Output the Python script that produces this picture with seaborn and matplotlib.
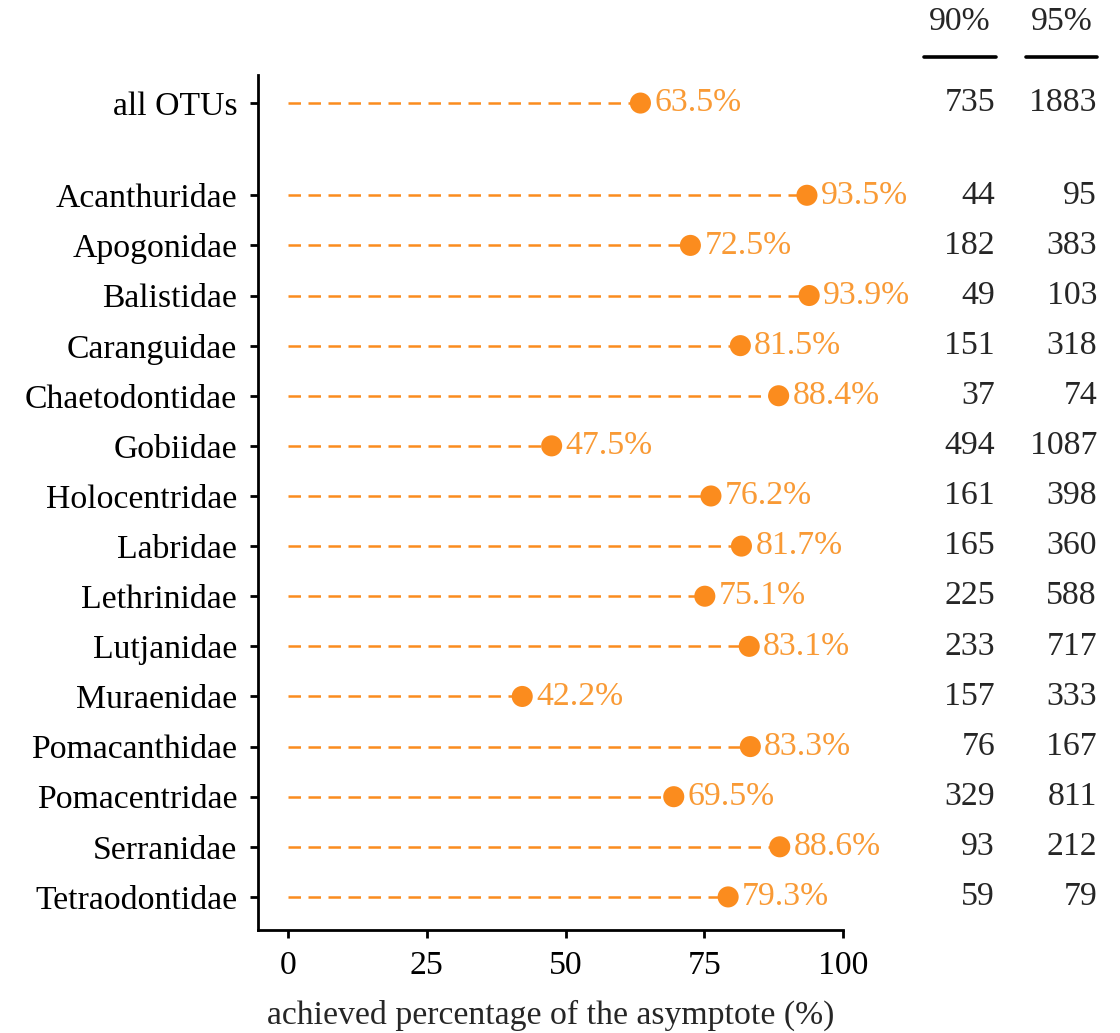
import matplotlib
matplotlib.use("Agg")
import matplotlib.pyplot as plt
import matplotlib.transforms as mtransforms
import seaborn as sns
import pandas as pd

groups = ["all OTUs", "Acanthuridae", "Apogonidae", "Balistidae", "Caranguidae",
          "Chaetodontidae", "Gobiidae", "Holocentridae", "Labridae", "Lethrinidae",
          "Lutjanidae", "Muraenidae", "Pomacanthidae", "Pomacentridae", "Serranidae",
          "Tetraodontidae"]
achieved = [63.5, 93.5, 72.5, 93.9, 81.5, 88.4, 47.5, 76.2, 81.7, 75.1, 83.1,
            42.2, 83.3, 69.5, 88.6, 79.3]
n90 = [735, 44, 182, 49, 151, 37, 494, 161, 165, 225, 233, 157, 76, 329, 93, 59]
n95 = [1883, 95, 383, 103, 318, 74, 1087, 398, 360, 588, 717, 333, 167, 811, 212, 79]
table_headers = ["90%", "95%"]
x_ticks = [0, 25, 50, 75, 100]

sns.set_style("ticks")
plt.rcParams["font.family"] = ["Liberation Serif", "DejaVu Serif"]

ORANGE = "#fb8c1e"
LABEL_ORANGE = "#f99a35"
FS = 24.3

# row positions: a gap between "all OTUs" and the families
pos = [0.0] + [1.84 + i for i in range(len(groups) - 1)]
df = pd.DataFrame({"group": groups, "achieved": achieved, "pos": pos,
                   "n90": n90, "n95": n95})

fig = plt.figure(figsize=(11.2, 10.33), dpi=100)
ax = fig.add_axes([0.2304, 0.0997, 0.7527 - 0.2304, 0.9274 - 0.0997])

ax.hlines(df["pos"], 0, df["achieved"], colors=ORANGE, linestyles=(0, (5, 3)),
          linewidth=1.8, zorder=2)
sns.scatterplot(data=df, x="achieved", y="pos", ax=ax, color=ORANGE, s=230,
                edgecolor="none", zorder=3, legend=False)

for _, r in df.iterrows():
    ax.annotate(f"{r['achieved']:.1f}%", (r["achieved"], r["pos"]),
                xytext=(10, 0), textcoords="offset points", ha="left",
                va="center", fontsize=FS, color=LABEL_ORANGE)

ax.set_xlim(-5.4, 100)
ax.set_ylim(pos[-1] + 0.66, -0.56)
ax.set_yticks(pos)
ax.set_yticklabels(groups, fontsize=FS)
ax.set_xticks(x_ticks)
ax.set_xticklabels([str(t) for t in x_ticks], fontsize=FS)
ax.set_xlabel("achieved percentage of the asymptote (%)", fontsize=FS, labelpad=13)
ax.set_ylabel("")
for s in ["top", "right"]:
    ax.spines[s].set_visible(False)
for s in ["left", "bottom"]:
    ax.spines[s].set_linewidth(2.0)
    ax.spines[s].set_color("black")
ax.tick_params(axis="both", width=2.0, length=6, colors="black", pad=9)
ax.tick_params(axis="y", pad=9)

# table on the right
trans = mtransforms.blended_transform_factory(fig.transFigure, ax.transData)
col_right = [995 / 1120, 1097 / 1120]
col_center = [960 / 1120, 1062 / 1120]
col_span = [(924 / 1120, 996 / 1120), (1026 / 1120, 1097 / 1120)]
for j, (hdr, vals) in enumerate(zip(table_headers, [n90, n95])):
    fig.text(col_center[j], 1 - 22 / 1033, hdr, ha="center", va="center", fontsize=FS)
    fig.add_artist(plt.Line2D(col_span[j], [1 - 57 / 1033] * 2, color="black",
                              linewidth=2.6, transform=fig.transFigure))
    for p, v in zip(pos, vals):
        ax.text(col_right[j], p, str(v), transform=trans, ha="right",
                va="center", fontsize=FS, clip_on=False)

fig.savefig("out.png", dpi=100)
